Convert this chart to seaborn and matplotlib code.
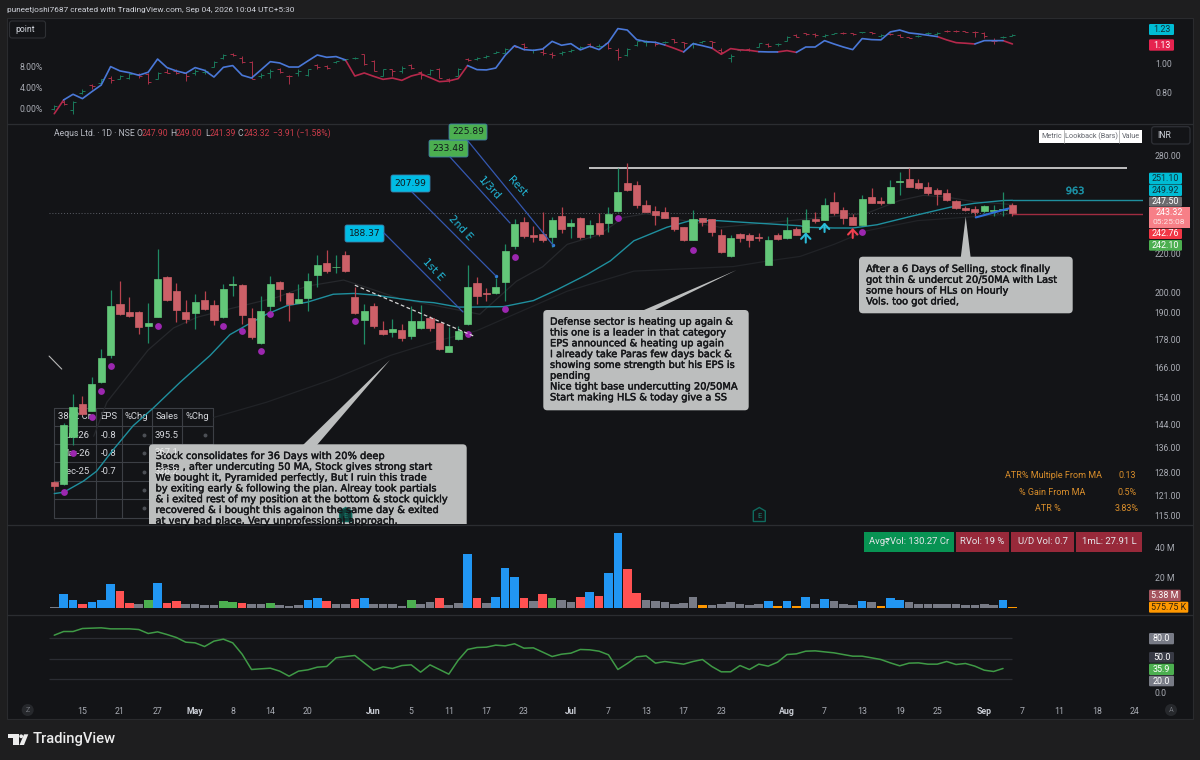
import matplotlib
matplotlib.use("Agg")
import matplotlib.pyplot as plt
import matplotlib.patheffects as pe
from matplotlib.patches import FancyBboxPatch, Polygon, Rectangle, Circle
from matplotlib.ticker import NullLocator
import numpy as np
import seaborn as sns

W, H = 1200, 760

# candles, one row per session: open, high, low, close
OHLC = [
    (125.0, 125.4, 122.6, 123.8), (124.4, 144.5, 124.0, 143.8), (139.6, 155.4, 136.9, 150.4),
    (151.6, 154.6, 147.5, 148.0), (149.2, 162.0, 149.0, 159.2), (160.0, 173.6, 159.8, 169.8),
    (171.2, 201.0, 169.7, 193.4), (194.0, 205.4, 189.0, 189.4), (190.3, 197.4, 187.9, 188.3),
    (190.3, 190.6, 180.1, 183.5), (184.0, 194.6, 176.1, 185.3), (188.2, 222.2, 188.0, 206.4),
    (207.5, 208.0, 195.5, 195.9), (200.4, 204.6, 185.9, 191.4), (190.5, 196.0, 185.1, 186.9),
    (189.9, 199.0, 182.5, 195.0), (196.0, 200.7, 191.5, 192.0), (193.9, 196.0, 184.4, 186.5),
    (187.8, 204.0, 187.5, 201.6), (203.6, 208.3, 198.0, 204.0), (203.7, 203.9, 185.0, 188.9),
    (187.5, 192.2, 177.9, 179.1), (176.1, 197.9, 176.0, 190.6), (193.0, 208.0, 190.6, 204.0),
    (205.0, 205.5, 195.4, 201.7), (199.3, 199.8, 186.2, 194.2), (194.8, 204.0, 194.5, 196.8),
    (197.1, 209.8, 190.9, 205.4), (208.6, 219.2, 202.5, 213.9), (214.9, 221.9, 209.4, 210.8),
    (212.5, 219.0, 209.5, 213.0), (218.9, 221.4, 210.4, 210.6), (197.4, 202.5, 189.5, 189.7),
    (186.8, 194.0, 175.9, 190.6), (193.4, 194.5, 183.0, 184.0), (182.0, 186.2, 179.9, 180.4),
    (181.0, 186.9, 179.0, 182.5), (182.0, 185.0, 177.2, 178.6), (179.3, 193.3, 177.9, 186.2),
    (183.1, 193.8, 182.5, 186.2), (187.5, 188.4, 181.6, 183.0), (185.1, 185.3, 173.2, 173.9),
    (172.6, 183.4, 172.4, 175.2), (178.0, 184.0, 177.5, 181.4), (185.0, 213.9, 184.4, 202.6),
    (204.3, 207.5, 194.1, 198.2), (199.3, 202.2, 195.8, 198.8), (199.4, 207.1, 199.2, 202.4),
    (204.9, 225.0, 195.4, 221.4), (224.1, 239.8, 222.3, 236.6), (237.6, 241.0, 228.3, 229.6),
    (230.4, 235.2, 226.6, 229.4), (231.0, 244.0, 226.6, 227.7), (229.2, 241.0, 223.3, 238.9),
    (241.5, 246.7, 231.7, 233.9), (235.4, 239.8, 228.6, 237.4), (240.0, 240.5, 228.0, 229.0),
    (231.0, 239.0, 228.3, 236.0), (237.3, 243.4, 229.9, 230.8), (237.4, 246.7, 232.0, 242.3),
    (244.3, 271.6, 244.0, 256.3), (261.6, 275.0, 257.0, 257.5), (260.7, 263.0, 246.3, 248.3),
    (248.3, 250.8, 243.7, 244.0), (244.6, 247.6, 236.2, 242.2), (243.6, 246.7, 240.0, 240.4),
    (240.8, 241.0, 232.5, 233.6), (234.7, 235.0, 227.0, 227.7), (227.7, 245.0, 227.4, 239.8),
    (240.0, 240.4, 235.4, 238.0), (239.4, 239.8, 229.6, 231.9), (230.4, 233.6, 220.5, 221.0),
    (218.5, 230.0, 218.3, 228.4), (231.1, 231.6, 226.6, 228.4), (230.4, 231.5, 223.6, 227.2),
    (229.0, 231.6, 227.0, 228.6), (213.9, 229.6, 213.7, 227.4), (230.4, 231.5, 227.5, 228.2),
    (228.6, 240.7, 227.8, 233.1), (233.7, 234.8, 230.0, 230.2), (232.2, 245.8, 232.0, 239.2),
    (239.8, 244.0, 237.1, 238.5), (239.2, 252.4, 239.0, 247.9), (250.0, 256.1, 242.2, 243.4),
    (244.8, 246.5, 236.6, 240.0), (241.0, 242.5, 236.0, 236.3), (236.2, 254.0, 236.0, 251.9),
    (252.9, 258.8, 249.0, 249.2), (250.3, 252.8, 248.3, 249.3), (249.5, 263.7, 249.3, 259.3),
    (262.4, 269.3, 254.0, 263.0), (264.6, 271.6, 259.0, 259.3), (261.6, 264.6, 258.0, 258.5),
    (259.3, 262.5, 254.5, 255.2), (257.2, 258.5, 248.3, 254.7), (255.2, 258.0, 250.5, 251.2),
    (250.3, 250.8, 245.8, 246.2), (246.4, 247.6, 244.2, 245.0), (245.6, 247.2, 241.5, 243.6),
    (244.5, 248.0, 243.0, 247.6), (244.6, 248.0, 241.5, 245.0), (245.0, 256.0, 241.6, 245.5),
    (247.9, 249.0, 241.39, 243.32),
]

# moving averages, read at a few bars each
MA20_BARS = [0, 1, 3.1, 4.5, 6.3, 8.4, 10.5, 13.4, 16.6, 18.7, 20.5, 22.6, 24.8, 26.9, 29.7, 31.9, 34.3,
             36.8, 39, 40.4, 43, 44.5, 47.8, 51, 53.5, 56.7, 59.2, 61.7, 65.2, 67.7, 70.6, 73.4, 79.4,
             80.1, 83, 85, 87.6, 91.1, 95.4, 97.9, 101.1, 102]
MA20_VALS = [121.5, 121.9, 125.3, 128.4, 135.5, 143.7, 150.0, 160.0, 171.0, 180.0, 184.3, 189.3, 193.4,
             195.0, 198.9, 199.3, 198.4, 196.7, 195.3, 194.8, 192.7, 192.7, 192.9, 195.8, 201.1, 208.8,
             216.0, 227.0, 234.7, 238.6, 238.6, 237.6, 235.6, 234.7, 234.3, 234.3, 236.2, 241.0, 246.7,
             249.0, 250.8, 250.9]
MA50_BARS = [4.2, 5.6, 10, 12.7, 15.2, 19, 23.7, 26.9, 30.8, 33.3, 36.8, 45.3, 49.2, 52, 54.6, 58, 60.6, 63,
             70.9, 86.5, 90, 92.5, 95, 97.9, 102]
MA50_VALS = [140.0, 152.3, 173.3, 183.0, 187.9, 192.2, 197.4, 202.9, 206.0, 202.2, 196.7, 189.3, 205.4,
             212.9, 225.0, 230.4, 240.5, 242.7, 234.7, 243.0, 250.8, 254.0, 252.9, 250.1, 248.3]
MA150_BARS = [17, 22.6, 29.7, 35.8, 40.4, 45, 54.6, 61.7, 72.3, 76, 79.4, 83, 86.5, 91.9, 96.8, 102]
MA150_VALS = [146.7, 152.3, 161.3, 171.0, 176.8, 181.8, 200.4, 210.6, 213.0, 216.0, 218.4, 225.0, 232.7,
              238.6, 240.5, 242.7]

# pocket pivot dots under the candles
DOT_BARS = [1, 2, 4, 5, 6, 11, 18, 20, 22, 23, 32, 44, 48, 49, 60, 68, 86]
DOT_VALS = [121.9, 134.4, 147.0, 156.4, 166.4, 184.0, 184.0, 181.5, 172.9, 189.3, 186.3, 180.4, 192.0,
            218.0, 240.2, 222.1, 232.2]

PRICE_TICKS = [280, 220, 200, 190, 178, 166, 154, 144, 136, 128, 121, 115]

# volume in millions, b blue / r red / g green / k grey / o orange
VOLUME = [0.3, 9.3, 5.3, 2.2, 3.8, 5.3, 15.8, 11.1, 3.1, 2.2, 4.9, 16.7, 3.3, 4.2, 2.2, 2.2, 1.6, 1.6, 4.2,
          3.8, 2.9, 2.2, 2.2, 2.9, 1.6, 1.1, 1.6, 4.9, 6.7, 4.2, 2.7, 2.7, 6.0, 6.7, 2.2, 2.2, 2.2, 1.3,
          4.9, 2.7, 3.6, 6.7, 1.8, 3.1, 35.8, 6.2, 2.9, 7.1, 26.4, 20.7, 6.2, 4.2, 9.3, 6.7, 4.9, 3.8,
          7.1, 10.7, 7.6, 23.3, 49.6, 25.6, 9.8, 5.3, 4.2, 3.6, 2.7, 3.1, 7.1, 1.6, 2.0, 2.7, 3.6, 2.2,
          1.6, 2.7, 4.2, 1.1, 4.2, 1.1, 7.1, 2.2, 5.8, 4.2, 2.2, 1.6, 4.2, 3.8, 1.1, 6.7, 5.3, 3.8, 2.7,
          2.7, 2.2, 2.2, 2.2, 1.6, 1.6, 2.7, 1.6, 5.3, 0.58]
VOLUME_KIND = list("kbbrbbbrrkgbrrkkkkggrkkgkkkbbrkkrbkkk"
                   "kgkkrkkbrkbbbrkrgkkrbrbbrrkkkkkkokkkkkkbobo"
                   "bkbkkkbkobbkkkkkkkkkkbo")

RSI = [84.6, 90.0, 90.0, 94.4, 94.9, 95.4, 93.9, 93.9, 93.9, 92.9, 87.1, 89.5, 85.6, 81.2, 74.4, 73.4, 68.0,
       75.9, 78.8, 73.4, 56.8, 34.4, 35.4, 36.3, 32.0, 24.6, 32.0, 33.9, 37.8, 38.8, 51.5, 53.4, 54.9, 44.1,
       33.4, 38.3, 35.9, 40.2, 41.2, 30.5, 41.2, 34.4, 27.6, 48.0, 63.7, 66.6, 67.1, 70.0, 69.0, 72.0, 65.6,
       66.1, 59.8, 53.4, 56.8, 58.3, 63.7, 63.2, 61.2, 55.9, 34.4, 43.2, 52.9, 54.4, 43.7, 46.1, 44.1, 42.2,
       46.1, 49.0, 38.8, 31.0, 31.0, 40.2, 34.4, 42.2, 39.3, 45.1, 56.3, 57.3, 61.2, 61.7, 60.2, 58.8, 56.3,
       53.9, 53.9, 51.5, 49.0, 44.1, 39.8, 43.7, 44.1, 42.2, 42.2, 46.1, 41.7, 43.2, 39.3, 33.4, 31.5, 35.9]

# comparison line on the right scale of the top pane
RATIO = [0.657, 0.752, 0.791, 0.761, 0.809, 0.855, 0.982, 0.952, 0.940, 0.922, 0.943, 1.034, 0.975, 0.952,
         0.936, 0.975, 0.956, 0.910, 0.977, 0.989, 0.922, 0.903, 0.959, 1.016, 1.007, 0.979, 0.979, 1.021,
         1.062, 1.046, 1.051, 1.028, 0.917, 0.938, 0.915, 0.894, 0.903, 0.887, 0.917, 0.933, 0.906, 0.878,
         0.883, 0.899, 0.989, 0.961, 0.959, 0.972, 1.060, 1.126, 1.099, 1.094, 1.103, 1.156, 1.129, 1.140,
         1.097, 1.122, 1.099, 1.149, 1.244, 1.234, 1.168, 1.154, 1.149, 1.131, 1.108, 1.083, 1.140, 1.126,
         1.110, 1.067, 1.106, 1.097, 1.094, 1.085, 1.083, 1.083, 1.092, 1.080, 1.117, 1.117, 1.161, 1.138,
         1.117, 1.099, 1.175, 1.168, 1.166, 1.221, 1.234, 1.214, 1.207, 1.198, 1.189, 1.166, 1.147, 1.143,
         1.138, 1.161, 1.161, 1.161, 1.138]
RATIO_BLUE_RUNS = [(1, 31), (44, 65), (67, 70), (75, 77), (79, 94), (98, 101)]
RATIO_RED_RUNS = [(0, 1), (31, 44), (65, 67), (70, 75), (77, 79), (94, 98), (101, 102)]

# small OHLC bars on the % scale of the top pane
PCT_OHLC = [
    (0.0, 0.7, -0.3, 0.5), (1.3, 1.6, 0.6, 0.9), (-0.2, 1.5, -1.1, 1.3), (2.9, 3.7, 2.7, 3.4), (4.5, 4.7, 3.8, 4.2),
    (4.8, 5.7, 4.5, 5.6), (5.9, 6.2, 4.8, 5.4), (5.7, 6.4, 5.6, 6.1), (5.9, 6.7, 5.7, 6.6), (6.6, 6.8, 5.9, 6.2),
    (6.6, 6.7, 4.7, 5.1), (5.6, 6.9, 5.6, 6.8), (7.0, 7.5, 6.7, 6.8), (7.1, 7.6, 6.6, 6.8), (6.8, 6.9, 5.2, 6.1),
    (6.7, 7.5, 6.3, 7.1), (7.0, 7.5, 6.6, 7.2), (8.0, 9.1, 7.9, 8.9), (9.6, 10.4, 9.4, 10.2), (10.3, 10.5, 10.0, 10.1),
    (9.7, 10.0, 8.6, 8.9), (8.9, 9.0, 5.7, 5.7), (6.1, 6.8, 5.9, 6.4), (6.8, 7.5, 5.9, 7.2), (7.6, 7.7, 6.8, 6.9),
    (6.2, 6.3, 4.7, 6.1), (6.7, 7.6, 6.2, 7.2), (6.4, 7.6, 6.2, 7.5), (8.3, 8.5, 7.6, 8.0), (8.1, 8.2, 7.6, 7.8),
    (8.8, 9.1, 8.7, 9.0), (9.2, 9.5, 9.0, 9.4), (9.6, 9.9, 9.5, 9.7), (10.3, 10.4, 8.3, 8.5), (9.1, 9.2, 7.1, 7.2),
    (6.2, 7.6, 6.1, 7.5), (7.5, 7.6, 6.2, 7.1), (7.2, 8.1, 6.8, 7.8), (8.2, 8.4, 7.5, 7.7), (6.9, 7.2, 5.6, 6.4),
    (6.6, 7.5, 6.4, 7.3), (7.6, 7.7, 5.8, 5.9), (5.6, 5.9, 5.0, 5.4), (6.2, 7.7, 6.1, 7.6), (9.5, 9.7, 9.0, 9.2),
    (9.4, 9.9, 9.2, 9.6), (9.9, 10.1, 9.7, 10.0), (10.6, 10.9, 10.5, 10.8), (10.6, 11.6, 10.5, 11.4), (12.0, 12.1, 11.7, 11.8),
    (12.3, 12.4, 11.1, 11.8), (11.1, 11.4, 10.5, 11.2), (10.8, 11.8, 10.2, 10.5), (10.4, 10.7, 9.7, 10.2), (10.5, 11.0, 10.2, 10.8),
    (11.0, 11.4, 10.8, 11.1), (11.6, 11.9, 11.3, 11.7), (12.2, 12.4, 11.8, 11.9), (11.9, 12.2, 11.7, 12.0), (12.4, 12.7, 11.3, 11.6),
    (11.1, 11.6, 9.2, 9.9), (10.2, 11.5, 10.0, 11.3), (12.1, 12.9, 12.0, 12.8), (12.6, 13.0, 12.0, 12.7), (12.7, 12.8, 12.0, 12.2),
    (12.6, 12.9, 12.4, 12.7), (13.2, 13.2, 12.4, 12.7), (12.6, 12.7, 11.5, 12.4), (12.3, 12.7, 11.5, 12.5), (12.6, 12.9, 12.4, 12.8),
    (12.8, 12.9, 11.5, 12.6), (11.1, 11.5, 10.4, 10.8), (9.6, 10.4, 8.9, 10.0), (11.1, 11.4, 11.0, 11.3), (11.4, 11.5, 11.0, 11.2),
    (11.8, 12.5, 11.7, 12.4), (12.3, 12.5, 11.7, 12.0), (12.2, 12.5, 11.9, 12.3), (12.9, 13.8, 12.8, 13.6), (14.0, 14.1, 13.6, 13.7),
    (14.3, 14.4, 14.0, 14.1), (14.1, 14.3, 13.7, 14.0), (13.8, 14.1, 13.7, 14.0), (14.2, 14.4, 14.1, 14.3), (14.4, 14.5, 14.2, 14.3),
    (14.3, 14.4, 14.0, 14.2), (14.5, 14.6, 14.4, 14.6), (14.6, 14.6, 14.2, 14.3), (13.9, 14.1, 13.7, 14.0), (14.2, 14.3, 14.0, 14.1),
    (14.0, 14.1, 13.6, 13.7), (13.6, 13.6, 13.4, 13.5), (13.8, 14.0, 13.7, 13.9), (14.3, 14.6, 14.0, 14.4), (14.1, 14.5, 14.0, 14.4),
    (14.8, 15.0, 14.6, 14.7), (14.8, 15.0, 14.6, 14.7), (14.7, 14.8, 14.6, 14.6), (14.6, 14.7, 13.7, 14.5), (14.4, 14.6, 13.4, 13.9),
    (12.9, 13.4, 12.2, 12.8), (13.6, 13.9, 13.4, 13.7), (13.9, 14.1, 13.9, 14.0),
]

TIME_BARS = [3, 7, 11, 15, 19, 23, 27, 34, 38, 42, 46, 50, 55, 59, 63, 67, 71, 78, 82, 86, 90, 94, 99, 103, 107, 111, 115]
TIME_LABELS = ["15", "21", "27", "May", "8", "14", "20", "Jun", "5", "11", "17", "23", "Jul", "7", "13", "17", "23",
               "Aug", "7", "13", "19", "25", "Sep", "7", "11", "18", "24"]
MONTHS = ["May", "Jun", "Jul", "Aug", "Sep"]

NOTE_1 = ["Stock consolidates for 36 Days with 20% deep", "Base , after undercuting 50 MA, Stock gives strong start",
          "We bought it, Pyramided perfectly, But I ruin this trade", "by exiting early & following the plan. Alreay took partials",
          "& i exited rest of my position at the bottom & stock quickly", "recovered & i bought this againon the same day & exited",
          "at very bad place. Very unprofessional approach."]
NOTE_2 = ["Defense sector is heating up again &", "this one is a leader in that category", "EPS announced & heating up again",
          "I already take Paras few days back &", "showing some strength but his EPS is", "pending",
          "Nice tight base undercutting 20/50MA", "Start making HLS & today give a SS"]
NOTE_3 = ["After a 6 Days of Selling, stock finally", "got thin & undercut 20/50MA with Last", "some hours of HLs on Hourly",
          "Vols. too got dried,"]

TABLE_HEAD = ["3862 Cr", "EPS", "%Chg", "Sales", "%Chg"]
TABLE_QUARTERS = ["Jun-26", "Mar-26", "Dec-25"]
TABLE_EPS = ["-0.8", "-0.8", "-0.7"]
TABLE_SALES = ["395.5", "367.1", "326.2"]

BG = "#131417"
CHROME = "#1e1e1f"
SEP = "#2b2d31"
AXIS_TEXT = "#a9acb4"
UP = "#63c779"
DOWN = "#cc6068"
UP_WICK = "#1f8a64"
DOWN_WICK = "#b8434e"
TEAL = "#1f8f9e"
CYAN = "#00bce4"
LINK = "#3558b0"
NOTE = "#bcbebe"
VOL_COLORS = {"b": "#2196f3", "r": "#ff5252", "g": "#4caf50", "k": "#787b86", "o": "#ff9800"}
XLIM = (-5.03, 115.9)


def px_axes(fig, left, top, right, bottom):
    ax = fig.add_axes([left / W, 1 - bottom / H, (right - left) / W, (bottom - top) / H])
    ax.patch.set_visible(False)
    for s in ax.spines.values():
        s.set_visible(False)
    ax.tick_params(length=0, labelsize=6.2, colors=AXIS_TEXT)
    ax.grid(False)
    return ax


def tag(ax, x0, y0, x1, y1, text, fc, tc="white", size=6.4):
    ax.add_patch(FancyBboxPatch((x0, y0), x1 - x0, y1 - y0, boxstyle="round,pad=0,rounding_size=1.2",
                                fc=fc, ec="none"))
    ax.text((x0 + x1) / 2, (y0 + y1) / 2, text, color=tc, fontsize=size, ha="center", va="center")


def note(ax, box, tail, lines, text_x, text_y, clip=None):
    x0, y0, x1, y1 = box
    patch = FancyBboxPatch((x0, y0), x1 - x0, y1 - y0, boxstyle="round,pad=0,rounding_size=4", fc=NOTE, ec="none")
    ax.add_patch(patch)
    ax.add_patch(Polygon(tail, closed=True, fc=NOTE, ec="none"))
    if clip:
        patch.set_clip_path(clip)
    for n, line in enumerate(lines):
        t = ax.text(text_x, text_y + n * 10.8, line, color="#16171a", fontsize=7.1, va="center",
                    family="DejaVu Sans",
                    path_effects=[pe.withStroke(linewidth=0.3, foreground="#16171a")])
        if clip:
            t.set_clip_path(clip)


def main():
    sns.set_theme(style="dark", rc={"axes.facecolor": BG, "figure.facecolor": CHROME})
    plt.rcParams["font.family"] = ["Roboto", "DejaVu Sans"]

    fig = plt.figure(figsize=(W / 100, H / 100), dpi=100)
    fig.patch.set_facecolor(CHROME)

    under = px_axes(fig, 0, 0, W, H)
    under.set_xlim(0, W)
    under.set_ylim(H, 0)
    under.axis("off")
    under.set_zorder(1)
    under.add_patch(Rectangle((7, 18), 1186, 701, fc=BG, ec="#2a2b2e", lw=0.8))
    for y in (123.5, 524.5, 615):
        under.plot([7, 1193], [y, y], color=SEP, lw=0.9)

    # earnings table sits behind the candles
    col_edges = [54.3, 95.7, 121.7, 151.7, 182.3, 212.7]
    row_edges = [407.7, 426, 444.3, 462.3, 480.7, 499, 517.7]
    for x in col_edges:
        under.plot([x, x], [row_edges[0], row_edges[-1]], color="#3c3f45", lw=0.8)
    for y in row_edges:
        under.plot([col_edges[0], col_edges[-1]], [y, y], color="#3c3f45", lw=0.8)
    col_mid = [(a + b) / 2 for a, b in zip(col_edges, col_edges[1:])]
    for x, s in zip(col_mid, TABLE_HEAD):
        under.text(x, 416.8, s, color="#d6d8dd", fontsize=6.8, ha="center", va="center")
    row_mid = [(a + b) / 2 for a, b in zip(row_edges[1:], row_edges[2:])]
    for y, q, e in zip(row_mid, TABLE_QUARTERS, TABLE_EPS):
        under.text(col_mid[0], y, q, color="#d6d8dd", fontsize=6.8, ha="center", va="center")
        under.text(col_mid[1], y, e, color="#d6d8dd", fontsize=6.8, ha="center", va="center")
    under.text(col_mid[3], row_mid[0], TABLE_SALES[0], color="#d6d8dd", fontsize=6.8, ha="center", va="center")
    under.scatter([143.7] * 5, row_mid, s=8, color="#4c4f55", lw=0)
    under.scatter([205], [row_mid[0]], s=8, color="#4c4f55", lw=0)

    bars = np.arange(len(OHLC))
    opens, highs, lows, closes = [np.array(c) for c in zip(*OHLC)]
    rising = closes >= opens

    # ---- top pane
    ax_pct = px_axes(fig, 7, 18, 1143, 123)
    ax_pct.set_zorder(3)
    pct_o, pct_h, pct_l, pct_c = [np.array(c) for c in zip(*PCT_OHLC)]
    pct_colors = np.where(pct_c >= pct_o, "#1a7a5c", "#a82f47")
    ax_pct.vlines(bars, pct_l, pct_h, colors=pct_colors, lw=0.7)
    ax_pct.hlines(pct_o, bars - 0.32, bars, colors=pct_colors, lw=0.7)
    ax_pct.hlines(pct_c, bars, bars + 0.32, colors=pct_colors, lw=0.7)
    ax_pct.set_xlim(*XLIM)
    ax_pct.set_ylim(-2.76, 17.24)
    ax_pct.set_xticks([])
    ax_pct.set_yticks([0, 4, 8], labels=["0.00%", "4.00%", "8.00%"])
    ax_pct.tick_params(axis="y", pad=-26, labelsize=6.2)

    ax_ratio = ax_pct.twinx()
    ax_ratio.patch.set_visible(False)
    for s in ax_ratio.spines.values():
        s.set_visible(False)
    ax_ratio.grid(False)
    ratio = np.array(RATIO)
    for runs, color in ((RATIO_RED_RUNS, "#b5284b"), (RATIO_BLUE_RUNS, "#4a78d8")):
        for a, b in runs:
            sns.lineplot(x=bars[a:b + 1], y=ratio[a:b + 1], color=color, lw=1.2, ax=ax_ratio,
                         estimator=None, errorbar=None)
    ax_ratio.set_ylim(0.593, 1.317)
    ax_ratio.set_ylabel("")
    ax_ratio.set_yticks([0.8, 1.0], labels=["0.80", "1.00"])
    ax_ratio.tick_params(axis="y", length=0, labelsize=6.2, colors=AXIS_TEXT, pad=9)

    # ---- price pane
    ax = px_axes(fig, 7, 124, 1143, 524)
    ax.set_zorder(4)
    ax.set_yscale("log")
    ax.hlines(closes[-1], -0.6, bars[-1], colors="#5b5e66", lw=0.7, linestyles=(0, (1, 2)), zorder=1)
    ax.hlines(271.8, 56.9, 114.2, colors="#dcdcdc", lw=1.2, zorder=1)
    ax.hlines(250.9, bars[-1], XLIM[1], colors=TEAL, lw=1.0, zorder=1)
    ax.hlines(242.76, bars[-1], XLIM[1], colors="#a02c40", lw=1.0, zorder=1)
    sns.lineplot(x=MA150_BARS, y=MA150_VALS, color="#212327", lw=0.9, ax=ax, estimator=None, errorbar=None)
    sns.lineplot(x=MA50_BARS, y=MA50_VALS, color="#26282c", lw=0.9, ax=ax, estimator=None, errorbar=None)
    sns.lineplot(x=MA20_BARS, y=MA20_VALS, color=TEAL, lw=1.0, ax=ax, estimator=None, errorbar=None)
    ax.vlines(bars, lows, highs, colors=np.where(rising, UP_WICK, DOWN_WICK), lw=0.9, zorder=3)
    ax.bar(bars, np.abs(closes - opens), bottom=np.minimum(opens, closes), width=0.76,
           color=np.where(rising, UP, DOWN), edgecolor=np.where(rising, UP, DOWN), lw=0.5, zorder=4)
    sns.scatterplot(x=DOT_BARS, y=DOT_VALS, color="#9c27b0", s=24, linewidth=0, ax=ax, zorder=5)
    # sell/buy arrows and the small drawn lines
    for bar, tip, base, color in ((80, 231.8, 226.0, "#2bbcd8"), (82, 237.5, 232.0, "#2bbcd8"), (85, 234.3, 228.6, "#f0404f")):
        ax.annotate("", xy=(bar, tip), xytext=(bar, base), zorder=6,
                    arrowprops=dict(arrowstyle="->,head_width=0.28,head_length=0.3", color=color, lw=1.5,
                                    shrinkA=0, shrinkB=0))
    ax.plot([32, 44.8], [203.4, 179.1], color="#d5d5d5", lw=0.9, ls=(0, (3, 2)), zorder=6)
    ax.plot([-0.55, 0.8], [170.7, 165.3], color="#b8b8b8", lw=0.8, zorder=6)
    ax.plot([98.1, 101.6], [240.5, 245.9], color="#2f6fd8", lw=1.5, zorder=6)
    ax.set_xlim(*XLIM)
    ax.set_ylim(112.7, 303)
    ax.yaxis.tick_right()
    ax.yaxis.set_minor_locator(NullLocator())
    ax.set_yticks(PRICE_TICKS, labels=[f"{p:.2f}" for p in PRICE_TICKS])
    ax.set_xticks([])
    ax.tick_params(axis="y", pad=8.5, labelsize=6.2)
    ax.set_ylabel("")

    # ---- volume pane
    ax_vol = px_axes(fig, 7, 525, 1143, 615)
    ax_vol.set_zorder(3)
    sns.barplot(x=bars, y=VOLUME, hue=VOLUME_KIND, palette=VOL_COLORS, native_scale=True, dodge=False,
                width=0.92, saturation=1, legend=False, linewidth=0, edgecolor="none", ax=ax_vol)
    ax_vol.set_xlim(*XLIM)
    ax_vol.set_ylim(-4.87, 55.13)
    ax_vol.yaxis.tick_right()
    ax_vol.set_yticks([20, 40], labels=["20 M", "40 M"])
    ax_vol.set_xticks([])
    ax_vol.tick_params(axis="y", pad=8.5, labelsize=6.2)
    ax_vol.set_ylabel("")

    # ---- rsi pane, carries the time axis
    ax_rsi = px_axes(fig, 7, 616, 1143, 693)
    ax_rsi.set_zorder(3)
    ax_rsi.hlines([80, 50, 20], -0.55, bars[-1], colors="#2b2d33", lw=0.9)
    sns.lineplot(x=bars[:len(RSI)], y=RSI, color="#3f9a46", lw=1.1, ax=ax_rsi, estimator=None, errorbar=None)
    ax_rsi.set_xlim(*XLIM)
    ax_rsi.set_ylim(0, 112.7)
    ax_rsi.yaxis.tick_right()
    ax_rsi.set_yticks([0], labels=["0.0"])
    ax_rsi.set_xticks(TIME_BARS, labels=TIME_LABELS)
    ax_rsi.tick_params(axis="y", pad=8.5, labelsize=6.2)
    ax_rsi.tick_params(axis="x", pad=10, labelsize=6.3)
    for t in ax_rsi.get_xticklabels():
        if t.get_text() in MONTHS:
            t.set_color("#c9ccd4")
            t.set_fontweight("bold")
    ax_rsi.set_ylabel("")

    # ---- drawings, tags and labels on top
    over = px_axes(fig, 0, 0, W, H)
    over.set_xlim(0, W)
    over.set_ylim(H, 0)
    over.axis("off")
    over.set_zorder(10)

    over.text(7, 10, "puneetjoshi7687 created with TradingView.com, Sep 04, 2026 10:04 UTC+5:30", color="#d1d4dc",
              fontsize=5.95, va="center")
    over.add_patch(FancyBboxPatch((9.5, 21), 36, 17, boxstyle="round,pad=0,rounding_size=2.5", fc=BG, ec="#2e3034", lw=0.8))
    over.text(15.5, 29.5, "point", color="#d1d4dc", fontsize=6.2, va="center")

    over.text(54, 133.5, "Aequs Ltd. · 1D · NSE", color="#b7bac2", fontsize=6.2, va="center")
    for x, s, c in ((136.3, "O", "#b7bac2"), (141.7, "247.90", "#c93c4a"), (170.7, "H", "#b7bac2"), (176, "249.00", "#c93c4a"),
                    (205, "L", "#b7bac2"), (209.3, "241.39", "#c93c4a"), (238, "C", "#b7bac2"), (244, "243.32", "#c93c4a"),
                    (272.7, "−3.91 (−1.58%)", "#c93c4a")):
        over.text(x, 133.5, s, color=c, fontsize=6.2, va="center")

    # entry labels and their links
    for seg in (((384, 233), (463, 312)), ((412, 192), (495.7, 275.7)), ((450, 157), (510, 223)), ((468, 141), (553, 245))):
        over.plot([seg[0][0], seg[1][0]], [seg[0][1], seg[1][1]], color=LINK, lw=0.9)
    over.scatter([495.7, 553], [275.7, 245], s=6, color="#2f80d8", lw=0)
    for box, s, fc in (((345, 225, 384, 242), "188.37", CYAN), ((391, 175, 430, 192), "207.99", CYAN),
                       ((429, 140, 468, 157), "233.48", "#4caf50"), ((449, 124, 487, 140), "225.89", "#4caf50")):
        over.add_patch(FancyBboxPatch((box[0], box[1]), box[2] - box[0], box[3] - box[1],
                                      boxstyle="round,pad=0,rounding_size=2", fc=fc, ec="#3d7fa8", lw=0.6))
        over.text((box[0] + box[2]) / 2, (box[1] + box[3]) / 2, s, color="#10181c", fontsize=6.6, ha="center",
                  va="center", family="DejaVu Sans")
    for x, y, s in ((433, 270, "1st E"), (460, 228, "2nd E"), (489, 188, "1/3rd"), (517, 186, "Rest")):
        over.text(x, y, s, color="#22b8d8", fontsize=7.6, rotation=-47, ha="center", va="center",
                  rotation_mode="anchor", family="DejaVu Sans")
    over.text(1075, 191, "963", color="#1c8fa3", fontsize=7, ha="center", va="center", family="DejaVu Sans",
              path_effects=[pe.withStroke(linewidth=0.3, foreground="#1c8fa3")])

    clip = Rectangle((0, 0), W, 524, transform=over.transData)
    note(over, (149, 444.3, 466.7, 536), [(303, 445), (317, 445), (390, 360)], NOTE_1, 155.5, 456, clip=clip)
    for y, s in ((452.7, TABLE_SALES[1]), (471, TABLE_SALES[2])):
        over.text(166.7, y, s, color="#f2f2f2", fontsize=6.8, ha="center", va="center", alpha=0.9)
    note(over, (543.3, 310, 748.7, 410.3), [(641.7, 311), (653, 311), (736.7, 270)], NOTE_2, 550, 321.7)
    note(over, (859, 256.7, 1072.7, 313.3), [(960.7, 258), (970.7, 258), (965.7, 216.7)], NOTE_3, 866, 269)

    # earnings badges
    for cx, fc in ((345.7, "#0f3f3a"), (759.3, "none")):
        over.add_patch(Polygon([(cx - 6, 511), (cx, 507.5), (cx + 6, 511), (cx + 6, 521.5), (cx - 6, 521.5)], closed=True,
                               fc=fc, ec="#0f6a5e", lw=1))
        over.text(cx, 515.5, "E", color="#17806f", fontsize=5.5, ha="center", va="center")

    # metric table
    over.add_patch(Rectangle((1039, 130.3), 103, 13, fc="white", ec="none"))
    for x in (1064.3, 1119.3):
        over.plot([x, x], [130.3, 143.3], color="#9a9a9a", lw=0.5)
    for x, s in ((1051.7, "Metric"), (1091.8, "Lookback (Bars)"), (1130.6, "Value")):
        over.text(x, 136.8, s, color="#62656c", fontsize=5.2, ha="center", va="center")

    over.add_patch(FancyBboxPatch((1151.7, 126.7), 38.3, 17.3, boxstyle="round,pad=0,rounding_size=2.5", fc=BG,
                                  ec="#2e3036", lw=0.9))
    over.text(1157.5, 135.5, "INR", color="#d1d4dc", fontsize=6.2, va="center")

    # ATR readout
    for y, s, v, cx in ((476, "ATR% Multiple From MA", "0.13", 1053.3), (492.3, "% Gain From MA", "0.5%", 1052),
                        (508.7, "ATR %", "3.83%", 1047.7)):
        over.text(cx, y, s, color="#d98e2b", fontsize=6.5, ha="center", va="center")
        over.text(1127, y, v, color="#d98e2b", fontsize=6.5, ha="center", va="center")

    # volume chips
    for x0, x1, s, fc in ((864, 954, "Avg₹Vol: 130.27 Cr", "#089353"), (956, 1009, "RVol: 19 %", "#98293a"),
                          (1011.3, 1074, "U/D Vol: 0.7", "#98293a"), (1076, 1142, "1mL: 27.91 L", "#98293a")):
        over.add_patch(Rectangle((x0, 531.7), x1 - x0, 20, fc=fc, ec="none"))
        over.text((x0 + x1) / 2, 541.7, s, color="#e4e6ea", fontsize=6.8, ha="center", va="center")

    # price axis tags
    tag(over, 1149, 24, 1174, 35, "1.23", "#00bcd4", "#103038")
    tag(over, 1149, 39.3, 1174, 50.7, "1.13", "#e6234f")
    tag(over, 1149, 172.7, 1182, 184, "251.10", "#00bcd4", "#103038")
    tag(over, 1149, 184.5, 1182, 196, "249.92", "#00bcd4", "#103038")
    tag(over, 1149, 196.7, 1182, 206.7, "247.50", "#6b6b6e")
    over.add_patch(Rectangle((1149, 207), 41, 21, fc="#f77f87", ec="none"))
    over.text(1169, 212.5, "243.32", color="white", fontsize=6.4, ha="center", va="center")
    over.text(1169, 222.3, "05:25:08", color="#fbe3e4", fontsize=6, ha="center", va="center")
    tag(over, 1149, 228.7, 1182, 239, "242.76", "#f23645")
    tag(over, 1149, 240, 1182, 250.7, "242.10", "#4caf50")
    tag(over, 1149, 589.7, 1180.7, 601, "5.38 M", "#a5555f")
    tag(over, 1149, 601.7, 1188.3, 612.7, "575.75 K", "#ff9800", "#2a2010")
    tag(over, 1149, 633, 1174, 644.3, "80.0", "#787b86")
    tag(over, 1149, 652, 1174, 662.7, "50.0", "#383a45")
    tag(over, 1149, 663.7, 1174, 675, "35.9", "#4caf50")
    tag(over, 1149, 675.7, 1174, 686.3, "20.0", "#787b86")

    # scale buttons
    for cx, s in ((27.7, "Z"), (1171, "A")):
        over.add_patch(Circle((cx, 710), 6, fc="#26282c", ec="none"))
        over.text(cx, 710, s, color="#70737a", fontsize=5.2, ha="center", va="center")

    # TradingView mark
    over.add_patch(Polygon([(8, 734.3), (19.3, 734.3), (19.3, 745), (13.3, 745), (13.3, 738.3), (8, 738.3)], closed=True,
                           fc="#ececec", ec="none"))
    over.add_patch(Circle((21.2, 736.3), 1.9, fc="#ececec", ec="none"))
    over.add_patch(Polygon([(24, 734.3), (28.3, 734.3), (24, 745), (19.5, 745)], closed=True, fc="#ececec", ec="none"))
    over.text(33, 739.3, "TradingView", color="#ececec", fontsize=10.6, va="center", fontweight="medium")

    fig.savefig("out.png", dpi=100, facecolor=fig.get_facecolor())


if __name__ == "__main__":
    main()
